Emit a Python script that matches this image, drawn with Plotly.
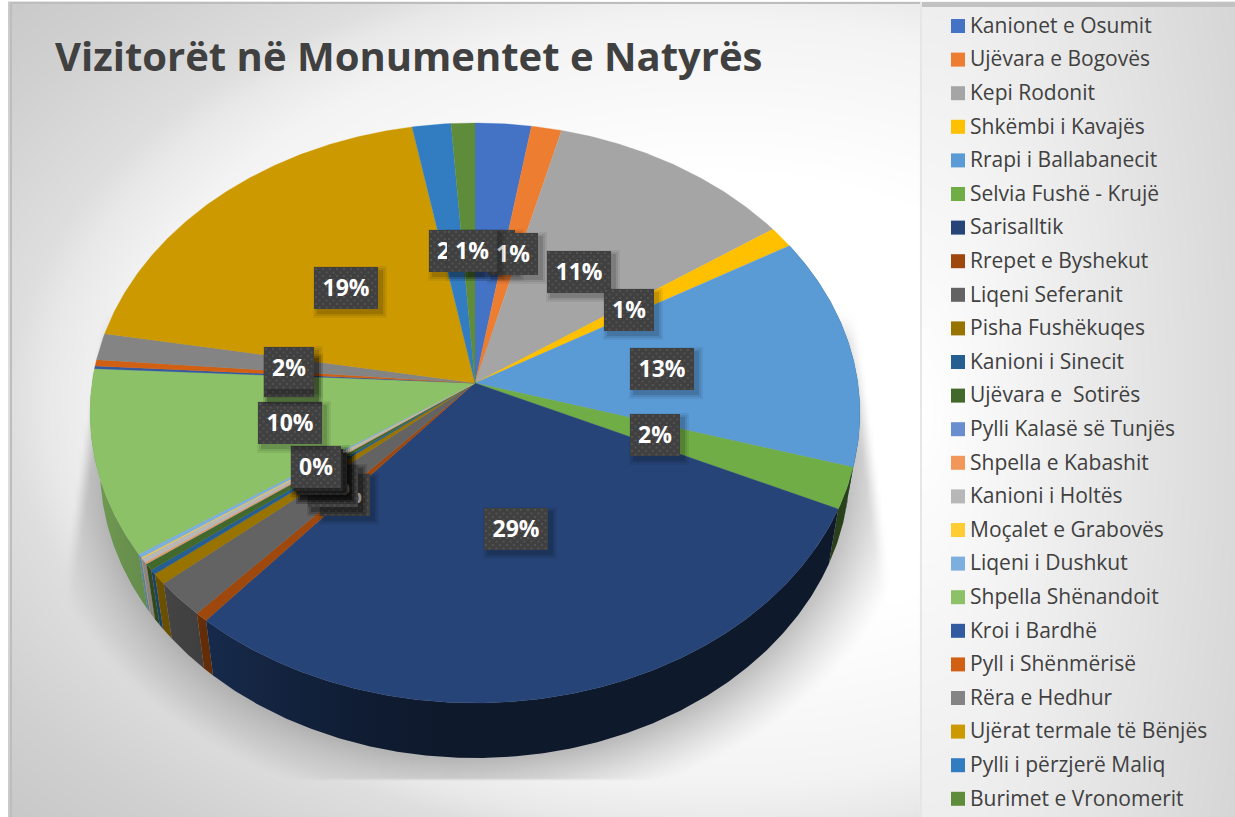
import numpy as np
import plotly.graph_objects as go

TITLE = "Vizitorët në Monumentet e Natyrës"
categories = ["Kanionet e Osumit", "Ujëvara e Bogovës", "Kepi Rodonit", "Shkëmbi i Kavajës",
              "Rrapi i Ballabanecit", "Selvia Fushë - Krujë", "Sarisalltik", "Rrepet e Byshekut",
              "Liqeni Seferanit", "Pisha Fushëkuqes", "Kanioni i Sinecit", "Ujëvara e  Sotirës",
              "Pylli Kalasë së Tunjës", "Shpella e Kabashit", "Kanioni i Holtës", "Moçalet e Grabovës",
              "Liqeni i Dushkut", "Shpella Shënandoit", "Kroi i Bardhë", "Pyll i Shënmërisë",
              "Rëra e Hedhur", "Ujërat termale të Bënjës", "Pylli i përzjerë Maliq", "Burimet e Vronomerit"]
values = [2.6, 1.4, 11.4, 1.2, 13.0, 2.3, 29.3, 0.5, 2.0, 0.6, 0.25, 0.35,
          0.03, 0.07, 0.25, 0.05, 0.2, 10.3, 0.15, 0.35, 1.5, 19.3, 1.8, 1.1]
colors = ["#4472C4", "#ED7D31", "#A5A5A5", "#FFC000", "#5B9BD5", "#70AD47", "#264478", "#9E480E",
          "#636363", "#997300", "#255E91", "#43682B", "#698ED0", "#F1975A", "#B7B7B7", "#FFCD33",
          "#7CAFDD", "#8CC168", "#335AA1", "#D26012", "#848484", "#CC9A00", "#327DC2", "#5E8C3A"]
# Shown percentage labels, in series order
labels = ["3%", "1%", "11%", "1%", "13%", "2%", "29%", "0%", "2%", "1%", "0%", "0%",
          "0%", "0%", "0%", "0%", "0%", "10%", "0%", "0%", "2%", "19%", "2%", "1%"]
# Label box centres on the pixel-scaled axes (label placement, not data)
label_centres = [(490, 251), (513, 254), (579, 272), (629, 310), (662, 369), (655, 435), (516, 529),
                 (345, 495), (333, 486), (333, 486), (322, 474), (322, 474), (322, 474), (322, 474),
                 (318, 470), (316, 467), (316, 467), (290, 423), (289, 376), (289, 376), (289, 368),
                 (346, 288), (454, 251), (472, 251)]

# Pie projection (perspective view of a disc)
CX, CY = 475.0, 383.0
A, B, K = 382.9, 286.9, 0.1034
DEPTH, SHRINK = 55.0, 0.974
W, H = 1235, 817


def rim(t0, t1):
    n = max(2, int(abs(t1 - t0) / 0.5) + 2)
    th = np.radians(np.linspace(t0, t1, n))
    X, Y = np.sin(th), -np.cos(th)
    d = 1 - K * Y
    return CX + A * X / d, CY + B * Y / d


def rgb(hexcol, f=1.0):
    r, g, b = int(hexcol[1:3], 16), int(hexcol[3:5], 16), int(hexcol[5:7], 16)
    return f"rgb({int(r*f)},{int(g*f)},{int(b*f)})"


def side_shade(x):
    return np.interp(x, [95, 150, 213, 400, 900], [0.80, 0.72, 0.62, 0.37, 0.37])


# Background: soft radial gradient + pie shadow
gx = np.arange(10, W + 4, 4.0)
gy = np.arange(3, H + 4, 3.0)
XX, YY = np.meshgrid(gx, gy)
dn = np.sqrt(((XX - 720) / 710) ** 2 + ((YY - 400) / 450) ** 2)
bg = np.interp(dn, [0, 0.5, 0.85, 0.95, 1.0, 1.2, 1.45], [255, 255, 243, 232, 222, 208, 196])
ex = (XX - CX) / (385 * SHRINK)
ey = (YY - (413 + DEPTH)) / 290
er = np.sqrt(ex ** 2 + ey ** 2)
dist = (er - 1) * 320
sh = np.clip(1 - dist / 60, 0, 1) ** 1.2
left_line = 100 - (YY - 320) * 37 / 260
right_line = 857 + (YY - 320) * 32 / 250
mask = np.clip((XX - left_line) / 12, 0, 1) * np.clip((right_line - XX) / 12, 0, 1)
mask *= np.clip((YY - 310) / 30, 0, 1) * (YY < 779)
bg = bg * (1 - 0.24 * sh * mask)
legend_panel = 255 - 0.12 * np.sqrt((XX - 921) ** 2 + (0.35 * (YY - 410)) ** 2)
bg = np.where(XX >= 921, legend_panel, bg)

fig = go.Figure()
fig.add_trace(go.Heatmap(x=gx, y=gy, z=np.round(bg, 1), zmin=0, zmax=255, zsmooth="best",
                         colorscale=[[0, "rgb(0,0,0)"], [1, "rgb(255,255,255)"]],
                         showscale=False, hoverinfo="skip"))

# Slice angles from the values
total = sum(values)
edges = np.concatenate([[0], np.cumsum(values)]) * 360.0 / total

# Side walls, far to near
walls = []
for i, (name, col) in enumerate(zip(categories, colors)):
    xr, yr = rim(edges[i], edges[i + 1])
    if yr.max() < 380:
        continue
    xb = CX + (xr - CX) * SHRINK
    yb = yr + DEPTH
    px = np.concatenate([xr, xb[::-1], xr[:1]])
    py = np.concatenate([yr, yb[::-1], yr[:1]])
    walls.append((yr.max(), name, col, px, py))
for _, name, col, px, py in sorted(walls, key=lambda w: w[0]):
    fr = np.linspace(0, 1, 9)
    xs = px.min() + fr * (px.max() - px.min())
    fig.add_trace(go.Scatter(x=px, y=py, mode="lines", line=dict(width=0), fill="toself",
                             fillgradient=dict(type="horizontal",
                                               colorscale=[[float(f), rgb(col, float(side_shade(x)))]
                                                           for f, x in zip(fr, xs)]),
                             name=name, hoverinfo="name", showlegend=False))

# Top faces
for i, (name, col) in enumerate(zip(categories, colors)):
    xr, yr = rim(edges[i], edges[i + 1])
    fig.add_trace(go.Scatter(x=np.concatenate([[CX], xr, [CX]]), y=np.concatenate([[CY], yr, [CY]]),
                             mode="lines", line=dict(width=0.3, color=col), fill="toself", fillcolor=col,
                             name=name, hoverinfo="name", showlegend=False))

# Data labels (later series sit on top of earlier ones)
for txt, (lx, ly) in zip(labels, label_centres):
    hw = 32 if len(txt) == 3 else 25
    hh = 21
    for grow, alpha in ((5, 0.06), (3, 0.08), (1, 0.12)):
        sx0, sx1 = lx - hw - grow + 4, lx + hw + grow + 4
        sy0, sy1 = ly - hh - grow + 4, ly + hh + grow + 4
        fig.add_trace(go.Scatter(x=[sx0, sx1, sx1, sx0, sx0], y=[sy0, sy0, sy1, sy1, sy0], mode="lines",
                                 line=dict(width=0), fill="toself", fillcolor=f"rgba(0,0,0,{alpha})",
                                 hoverinfo="skip", showlegend=False))
    x0, x1, y0, y1 = lx - hw, lx + hw, ly - hh, ly + hh
    fig.add_trace(go.Scatter(x=[x0, x1, x1, x0, x0], y=[y0, y0, y1, y1, y0], mode="lines",
                             line=dict(width=0), fill="toself", fillcolor="#404040",
                             hoverinfo="skip", showlegend=False))
    dx, dy = [], []
    for r, yy in enumerate(np.arange(y0 + 2, y1 - 1, 3.5)):
        for xx in np.arange(x0 + 2 + (r % 2) * 3.5, x1 - 1, 7.0):
            dx.append(xx)
            dy.append(yy)
    fig.add_trace(go.Scatter(x=dx, y=dy, mode="markers",
                             marker=dict(symbol="square", size=2, color="#525252", line=dict(width=0)),
                             hoverinfo="skip", showlegend=False))
    fig.add_trace(go.Scatter(x=[lx], y=[ly + 2], mode="text", text=[f"<b>{txt}</b>"],
                             textposition="middle center",
                             textfont=dict(family="Open Sans", size=23, color="white"),
                             hoverinfo="skip", showlegend=False))

# Legend column
LEG_Y0, LEG_STEP = 26.0, 33.6
leg_y = [LEG_Y0 + i * LEG_STEP for i in range(len(categories))]
fig.add_trace(go.Scatter(x=[958] * len(categories), y=leg_y, mode="markers",
                         marker=dict(symbol="square", size=14, color=colors, line=dict(width=0)),
                         hoverinfo="skip", showlegend=False))
fig.add_trace(go.Scatter(x=[970] * len(categories), y=[v + 1.5 for v in leg_y], mode="text", text=categories,
                         textposition="middle right",
                         textfont=dict(family="Open Sans", size=21, color="#404040"),
                         hoverinfo="skip", showlegend=False))

fig.update_layout(
    width=W, height=817, autosize=False, margin=dict(l=0, r=0, t=0, b=0),
    paper_bgcolor="white", plot_bgcolor="white", showlegend=False,
    title=dict(text=f"<b>{TITLE}</b>", x=55 / W, xanchor="left", xref="paper", y=1 - 57 / H, yanchor="middle",
               font=dict(family="Open Sans", size=40, color="#404040")),
    xaxis=dict(range=[0, W], visible=False, fixedrange=True),
    yaxis=dict(range=[H, 0], visible=False, fixedrange=True),
    shapes=[
        dict(type="rect", xref="x", yref="y", x0=10, x1=W, y0=2, y1=4, fillcolor="#bdbdbd", line=dict(width=0)),
        dict(type="rect", xref="x", yref="y", x0=921, x1=W, y0=2, y1=7, fillcolor="#c2c2c2", line=dict(width=0)),
        dict(type="rect", xref="x", yref="y", x0=10, x1=12, y0=2, y1=H, fillcolor="#bdbdbd", line=dict(width=0)),
        dict(type="rect", xref="x", yref="y", x0=920, x1=922, y0=2, y1=H, fillcolor="#e6e6e6", line=dict(width=0)),
    ],
)
fig.write_html("out.html", config={"displayModeBar": False},
               post_script="document.body.style.margin='0';document.body.style.overflow='hidden';")
